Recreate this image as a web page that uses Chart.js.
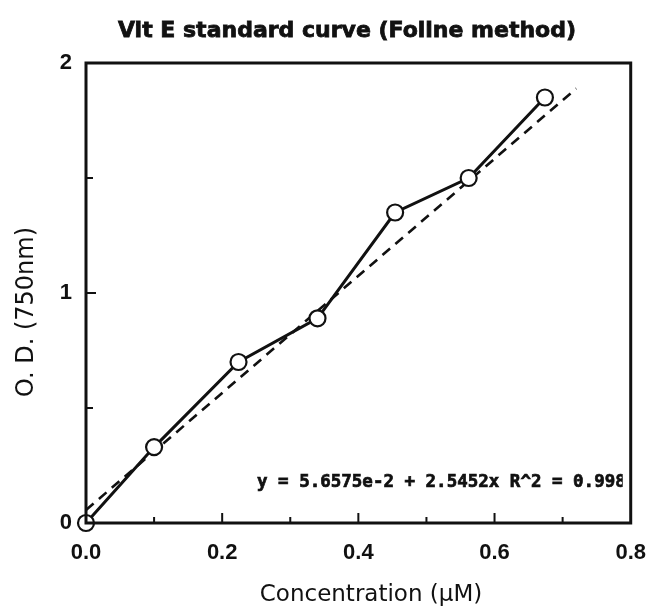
<!DOCTYPE html>
<html>
<head>
<meta charset="utf-8">
<title>Vit E standard curve</title>
<script src="https://cdn.jsdelivr.net/npm/chart.js@4.4.1/dist/chart.umd.min.js"></script>
<style>
  html, body { margin: 0; padding: 0; background: #fff; }
  #curve { display: block; }
</style>
</head>
<body>
<canvas id="curve" width="663" height="610"></canvas>
<script>
// Vit E standard curve: measured O.D. vs concentration, with linear fit

const concentration = [0, 0.10, 0.224, 0.34, 0.454, 0.562, 0.674];
const absorbance = [0, 0.33, 0.70, 0.89, 1.35, 1.50, 1.85];

// fit reported on the plot: y = a + b*x
const fitIntercept = 5.6575e-2;
const fitSlope = 2.5452;
const fitRange = [0, 0.72];
const fitLabel = "y = 5.6575e-2 + 2.5452x R^2 = 0.998";

const xTicks = [0, 0.1, 0.2, 0.3, 0.4, 0.5, 0.6, 0.7, 0.8];
const xLabelled = [0, 0.2, 0.4, 0.6, 0.8];
const yTicks = [0, 0.5, 1, 1.5, 2];
const yLabelled = [0, 1, 2];

const titleText = "Vit E standard curve (Foline method)";
const xTitle = "Concentration (\u00b5M)";
const yTitle = "O. D. (750nm)";

const points = concentration.map((x, i) => ({ x, y: absorbance[i] }));
const fitPoints = fitRange.map((x) => ({ x, y: fitIntercept + fitSlope * x }));

function near(list, v) {
  return list.some((t) => Math.abs(t - v) < 1e-6);
}

// frame, inward tick marks and all the free text
const decorations = {
  id: "decorations",
  afterDraw(chart) {
    const { ctx, chartArea: a } = chart;
    const xs = chart.scales.x;
    const ys = chart.scales.y;

    ctx.save();
    ctx.strokeStyle = "#111";
    ctx.lineWidth = 3;
    ctx.strokeRect(a.left, a.top, a.right - a.left, a.bottom - a.top);

    ctx.lineWidth = 2;
    ctx.beginPath();
    xTicks.forEach((t) => {
      if (t <= 0 || t >= 0.8) return;
      const px = xs.getPixelForValue(t);
      const len = near(xLabelled, t) ? 10 : 6;
      ctx.moveTo(px, a.bottom);
      ctx.lineTo(px, a.bottom - len);
    });
    yTicks.forEach((t) => {
      if (t <= 0 || t >= 2) return;
      const py = ys.getPixelForValue(t);
      const len = near(yLabelled, t) ? 10 : 7;
      ctx.moveTo(a.left, py);
      ctx.lineTo(a.left + len, py);
    });
    ctx.stroke();

    ctx.fillStyle = "#111";
    ctx.strokeStyle = "#111";

    ctx.font = "bold 22px 'DejaVu Sans'";
    ctx.textAlign = "center";
    ctx.textBaseline = "alphabetic";
    ctx.lineWidth = 0.8;
    ctx.fillText(titleText, 347, 37);
    ctx.strokeText(titleText, 347, 37);

    ctx.font = "23px 'DejaVu Sans'";
    ctx.textBaseline = "middle";
    ctx.fillText(xTitle, 371, 595);

    ctx.save();
    ctx.translate(27, 312);
    ctx.rotate(-Math.PI / 2);
    ctx.font = "24px 'DejaVu Sans'";
    ctx.fillText(yTitle, 0, 0);
    ctx.restore();

    // regression label, cut off by the frame on the right
    ctx.save();
    ctx.beginPath();
    ctx.rect(a.left, a.top, a.right - a.left - 8, a.bottom - a.top);
    ctx.clip();
    ctx.font = "bold 17.5px 'DejaVu Sans Mono'";
    ctx.textAlign = "left";
    ctx.textBaseline = "alphabetic";
    ctx.lineWidth = 0.7;
    ctx.fillText(fitLabel, 257, 487);
    ctx.strokeText(fitLabel, 257, 487);
    ctx.restore();

    ctx.restore();
  }
};

const tickFont = { family: "'Liberation Sans', Arial, sans-serif", size: 22, weight: "bold" };

new Chart(document.getElementById("curve"), {
  type: "scatter",
  data: {
    datasets: [
      {
        label: "O.D.",
        data: points,
        showLine: true,
        borderColor: "#111",
        borderWidth: 3,
        pointRadius: 8,
        pointBorderWidth: 2.2,
        pointBackgroundColor: "#fff",
        pointBorderColor: "#111",
        clip: false,
        order: 0
      },
      {
        label: "fit",
        data: fitPoints,
        showLine: true,
        borderColor: "#111",
        borderWidth: 2.6,
        borderDash: [10, 7],
        pointRadius: 0,
        order: 1
      }
    ]
  },
  options: {
    responsive: false,
    animation: false,
    layout: { padding: { top: 63, right: 26, left: 0, bottom: 0 } },
    plugins: {
      legend: { display: false },
      tooltip: { enabled: false },
      title: { display: false }
    },
    scales: {
      x: {
        type: "linear",
        min: 0,
        max: 0.8,
        afterFit(scale) { scale.height = 87; },
        afterBuildTicks(scale) { scale.ticks = xTicks.map((v) => ({ value: v })); },
        grid: { display: false, drawTicks: false },
        border: { display: false },
        ticks: {
          color: "#111",
          font: tickFont,
          padding: 17,
          maxRotation: 0,
          autoSkip: false,
          callback: (v) => (near(xLabelled, v) ? v.toFixed(1) : "")
        }
      },
      y: {
        type: "linear",
        min: 0,
        max: 2,
        afterFit(scale) { scale.width = 86; },
        afterBuildTicks(scale) { scale.ticks = yTicks.map((v) => ({ value: v })); },
        grid: { display: false, drawTicks: false },
        border: { display: false },
        ticks: {
          color: "#111",
          font: tickFont,
          padding: 14,
          autoSkip: false,
          callback: (v) => (near(yLabelled, v) ? String(v) : "")
        }
      }
    }
  },
  plugins: [decorations]
});
</script>
</body>
</html>
